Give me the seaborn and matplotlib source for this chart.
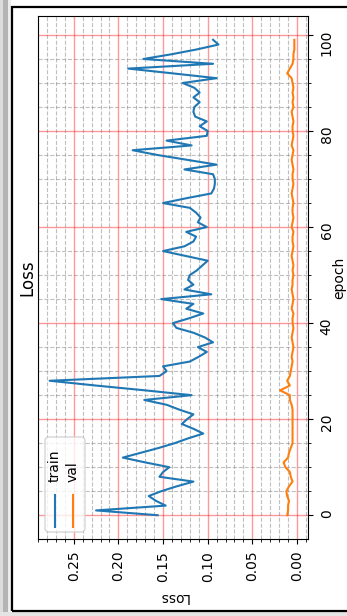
import numpy as np
import pandas as pd
import matplotlib
matplotlib.use("Agg")
import matplotlib.pyplot as plt
import matplotlib.ticker as mticker
from matplotlib.patches import Rectangle, FancyBboxPatch
from matplotlib.lines import Line2D
import seaborn as sns

epochs = list(range(100))

train_loss = [0.156, 0.225, 0.147, 0.158, 0.166, 0.152, 0.135, 0.116, 0.154, 0.150,
              0.143, 0.170, 0.195, 0.175, 0.155, 0.137, 0.122, 0.105, 0.116, 0.129,
              0.123, 0.116, 0.132, 0.146, 0.171, 0.118, 0.170, 0.225, 0.277, 0.154,
              0.146, 0.150, 0.120, 0.110, 0.101, 0.111, 0.094, 0.103, 0.116, 0.135,
              0.139, 0.121, 0.105, 0.124, 0.116, 0.152, 0.096, 0.126, 0.116, 0.122,
              0.120, 0.112, 0.106, 0.100, 0.125, 0.150, 0.126, 0.116, 0.113, 0.124,
              0.101, 0.111, 0.108, 0.113, 0.120, 0.150, 0.124, 0.096, 0.093, 0.092,
              0.092, 0.094, 0.126, 0.090, 0.123, 0.156, 0.184, 0.118, 0.146, 0.101,
              0.100, 0.109, 0.101, 0.114, 0.116, 0.115, 0.109, 0.116, 0.109, 0.115,
              0.128, 0.090, 0.139, 0.189, 0.094, 0.172, 0.140, 0.112, 0.088, 0.094]

val_loss = [0.011, 0.010, 0.010, 0.009, 0.011, 0.012, 0.009, 0.005, 0.007, 0.008,
            0.013, 0.015, 0.010, 0.009, 0.007, 0.005, 0.005, 0.005, 0.005, 0.005,
            0.005, 0.005, 0.005, 0.006, 0.008, 0.008, 0.019, 0.008, 0.011, 0.008,
            0.007, 0.006, 0.005, 0.006, 0.005, 0.004, 0.005, 0.006, 0.005, 0.004,
            0.005, 0.005, 0.004, 0.006, 0.005, 0.004, 0.005, 0.006, 0.005, 0.005,
            0.004, 0.005, 0.004, 0.005, 0.006, 0.005, 0.004, 0.005, 0.005, 0.004,
            0.006, 0.005, 0.004, 0.005, 0.005, 0.004, 0.005, 0.006, 0.005, 0.004,
            0.005, 0.005, 0.004, 0.005, 0.006, 0.005, 0.004, 0.006, 0.005, 0.004,
            0.005, 0.005, 0.004, 0.005, 0.006, 0.004, 0.005, 0.004, 0.005, 0.004,
            0.005, 0.006, 0.011, 0.008, 0.005, 0.004, 0.004, 0.003, 0.003, 0.003]

series_names = ["train", "val"]
series_colors = ["#1f77b4", "#ff7f0e"]

W, H = 347, 616
fig = plt.figure(figsize=(W / 100, H / 100), dpi=100)
fig.patch.set_facecolor("white")

# outer frame and shadow (screenshot look)
fig.add_artist(Rectangle((0, 0), 3 / W, 1, transform=fig.transFigure, color="#dcdcdc", lw=0))
fig.add_artist(Rectangle((3 / W, 0), 5 / W, 1, transform=fig.transFigure, color="#b4b4b4", lw=0))
fig.add_artist(Rectangle((8 / W, 0), 3 / W, 1, transform=fig.transFigure, color="#ececec", lw=0))
fig.add_artist(Rectangle((0, 0), 1, 4 / H, transform=fig.transFigure, color="#e4e4e4", lw=0))
fig.add_artist(Rectangle((12 / W, 5 / H), 1.0, (H - 7) / H - 5 / H, transform=fig.transFigure,
                         facecolor="none", edgecolor="black", lw=1.6))

ax = fig.add_axes([38 / W, (H - 539) / H, 270 / W, 523 / H])

df = pd.DataFrame({"epoch": epochs, "train": train_loss, "val": val_loss})
for name, col in zip(series_names, series_colors):
    sns.lineplot(data=df, x=name, y="epoch", orient="y", ax=ax, color=col, lw=1.5, legend=False)

ax.set_xlim(0.290, -0.0123)
ax.set_ylim(-4.95, 103.95)

ax.xaxis.set_major_locator(mticker.MultipleLocator(0.05))
ax.xaxis.set_minor_locator(mticker.MultipleLocator(0.01))
ax.xaxis.set_major_formatter(mticker.FormatStrFormatter("%.2f"))
ax.yaxis.set_major_locator(mticker.MultipleLocator(20))
ax.yaxis.set_minor_locator(mticker.MultipleLocator(5))

ax.grid(which="major", color="red", alpha=0.4, lw=1.0)
ax.grid(which="minor", color="gray", ls="--", alpha=0.5, lw=0.8)

ax.yaxis.tick_right()
ax.yaxis.set_label_position("right")
ax.tick_params(axis="x", which="major", labelrotation=90, labelsize=10, pad=5)
ax.tick_params(axis="y", which="major", labelrotation=90, labelsize=10, pad=5)
ax.tick_params(axis="y", which="both", left=False, right=True)

ax.set_xlabel("Loss", rotation=180, fontsize=10, labelpad=6)
ax.set_ylabel("epoch", rotation=90, fontsize=10)
ax.yaxis.set_label_coords(1.09, 0.5)
ax.text(-0.041, 0.5, "Loss", rotation=90, transform=ax.transAxes,
        ha="center", va="center", fontsize=12)

# legend drawn rotated (in inches from figure bottom-left)
tr = fig.dpi_scale_trans
box = FancyBboxPatch((0.45, (H - 532) / 100), 0.40, 0.95, boxstyle="round,pad=0,rounding_size=0.04",
                     transform=tr, facecolor="white", edgecolor="0.8", alpha=0.8, lw=1.0, zorder=5)
ax.add_artist(box)
for i, (name, col) in enumerate(zip(series_names, series_colors)):
    xi = 0.55 + i * 0.18
    ax.add_artist(Line2D([xi, xi], [(H - 527) / 100, (H - 495) / 100], transform=tr,
                         color=col, lw=1.5, zorder=6))
    ax.text(xi, (H - 482) / 100, name, rotation=90, transform=tr, ha="center", va="bottom",
            fontsize=10, zorder=6)

fig.savefig("out.png", dpi=100)
